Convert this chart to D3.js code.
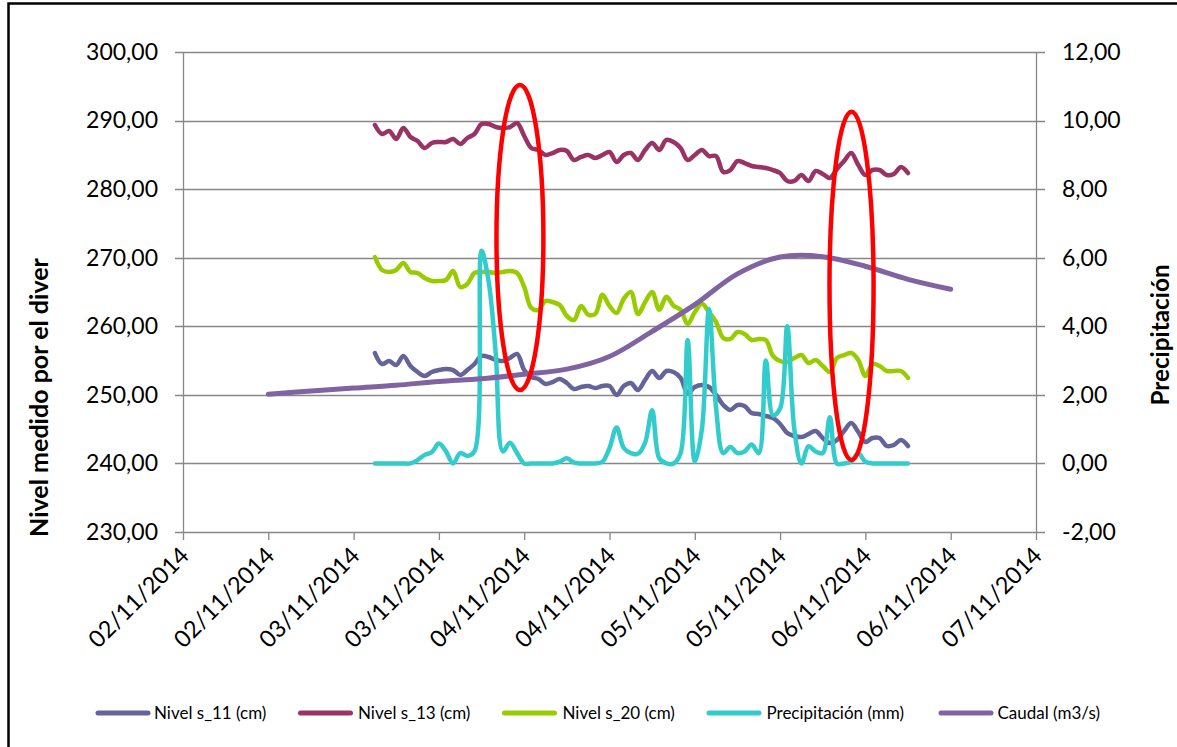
<!DOCTYPE html>
<html><head><meta charset="utf-8">
<script src="https://cdn.jsdelivr.net/npm/d3@7"></script>
<style>
body{margin:0;background:#fff}
svg{display:block}
text{font-family:Lato,"Open Sans",sans-serif;fill:#000}
</style>
</head><body>
<svg id="chart" width="1177" height="747"></svg>
<script>
// ---------- DATA ----------
const xTickHours = [0,12,24,36,48,60,72,84,96,108,120]; // hours after 02/11/2014 00:00
const xTickLabels = ["02/11/2014","02/11/2014","03/11/2014","03/11/2014","04/11/2014","04/11/2014","05/11/2014","05/11/2014","06/11/2014","06/11/2014","07/11/2014"];
const leftTicks = [230,240,250,260,270,280,290,300];
const rightTicks = [-2,0,2,4,6,8,10,12];

const levelStartHour = 27; // hourly series start at 03/11/2014 03:00
const nivelS11 = [256.10,254.50,254.94,254.35,255.67,254.21,253.33,252.75,253.33,253.62,
  253.77,253.62,252.90,253.62,254.50,255.67,255.52,255.08,254.94,255.38,
  255.96,253.62,252.60,252.31,251.58,251.87,252.31,251.73,250.85,251.15,
  251.29,251.00,251.29,251.29,249.98,251.29,251.73,250.71,252.17,253.48,
  252.46,253.48,253.33,252.46,250.27,251.15,251.44,251.15,249.98,248.52,
  247.79,248.52,248.37,247.35,247.21,246.92,246.62,245.75,244.44,244.00,
  243.85,244.29,244.73,243.71,242.98,243.42,244.73,245.89,244.58,243.12,
  243.71,243.71,242.54,242.69,243.42,242.54];
const nivelS13 = [289.35,288.04,288.48,287.31,288.92,287.60,287.02,286.00,286.73,286.87,
  286.87,287.31,286.58,287.46,288.04,289.50,289.50,289.06,288.92,289.06,
  289.65,287.75,286.00,285.71,284.98,285.27,285.71,285.56,284.25,284.69,
  284.98,284.54,284.98,285.42,283.96,284.98,285.27,284.25,285.71,286.73,
  285.71,287.17,286.87,286.00,284.25,284.98,285.71,284.83,284.83,282.50,
  282.79,284.10,283.81,283.37,283.23,283.08,282.79,282.35,281.19,281.19,
  282.06,281.19,282.65,282.21,281.62,282.94,284.10,285.27,283.52,282.06,
  282.79,282.79,282.06,282.21,283.23,282.35];
const nivelS20 = [270.10,268.21,267.92,268.21,269.23,267.92,267.77,267.04,266.60,266.60,
  266.75,268.06,265.73,266.17,267.77,267.92,267.92,267.77,267.92,268.06,
  267.77,265.73,262.67,262.37,263.69,263.54,263.10,261.50,260.91,262.96,
  261.70,261.79,264.60,262.96,261.94,264.00,265.00,261.79,263.50,265.00,
  262.40,264.30,263.00,262.40,260.33,262.08,263.30,262.08,260.62,258.29,
  258.15,259.17,258.87,258.00,258.15,258.00,255.67,254.94,254.79,255.38,
  255.81,254.65,255.08,254.21,253.33,255.38,255.81,256.10,255.08,252.75,
  254.50,254.21,253.48,253.48,253.48,252.46];
const precipitacion = [0,0,0,0,0,0,0.1,0.25,0.33,0.58,
  0.35,0,0.3,0.22,0.35,6.2,5.3,3.2,0.35,0.6,
  0.3,0,0,0,0,0,0.05,0.15,0.02,0,
  0,0,0.05,0.45,1.05,0.45,0.3,0.28,0.6,1.55,
  0.15,0,0,0.3,3.6,0.05,1.0,4.5,1.6,0.3,
  0.48,0.3,0.35,0.55,0.3,3.0,1.4,1.6,4.0,1.0,
  0,0.5,0.35,0.3,1.35,0,0,0.05,0.3,0.05,
  0,0,0,0,0,0];
const caudalHours = [12,18,24,30,36,42,48,54,60,66,72,78,84,90,96,102,108];
const caudalValues = [2.02,2.11,2.20,2.28,2.39,2.47,2.60,2.75,3.12,3.85,4.63,5.53,6.02,6.03,5.75,5.37,5.08];

const seriesNames = ["Nivel s_11 (cm)","Nivel s_13 (cm)","Nivel s_20 (cm)","Precipitación (mm)","Caudal (m3/s)"];
const seriesColors = ["#646499","#993366","#99CC00","#33CCCC","#8064A2"];

// red annotation ellipses: centre hour, half-width (hours), top & bottom on left axis
const ellipseHours = [47.4, 94.05];
const ellipseHalfWidth = [3.3, 3.1];
const ellipseTop = [295.2, 291.3];
const ellipseBottom = [250.7, 240.5];

// ---------- CHART ----------
const svg = d3.select("#chart");
const plot = {left:183, right:1036, top:52, bottom:532};
const x = d3.scaleLinear().domain([0,120]).range([plot.left, plot.right]);
const yL = d3.scaleLinear().domain([230,300]).range([plot.bottom, plot.top]);
const yR = d3.scaleLinear().domain([-2,12]).range([plot.bottom, plot.top]);
const loc = d3.formatLocale({decimal:",", thousands:".", grouping:[3], currency:["","€"], minus:"-"});
const f2 = loc.format(".2f");
const grid = "#878787";

// border
svg.append("rect").attr("x",8.5).attr("y",3.5).attr("width",1190).attr("height",760)
  .attr("fill","none").attr("stroke","#000").attr("stroke-width",2.5);

// gridlines (with outside tick extensions)
svg.append("g").selectAll("line").data(leftTicks).join("line")
  .attr("x1",plot.left-8).attr("x2",plot.right+9)
  .attr("y1",d=>Math.round(yL(d))+0.5).attr("y2",d=>Math.round(yL(d))+0.5)
  .attr("stroke",grid).attr("stroke-width",1.3);
// vertical axis lines
[plot.left, plot.right].forEach(px=>{
  svg.append("line").attr("x1",px+0.5).attr("x2",px+0.5).attr("y1",plot.top).attr("y2",plot.bottom)
    .attr("stroke",grid).attr("stroke-width",1.3);
});

// left axis labels
const axL = d3.axisLeft(yL).tickValues(leftTicks).tickFormat(f2).tickSize(0).tickPadding(25);
const gL = svg.append("g").attr("transform",`translate(${plot.left},0)`).call(axL);
gL.select(".domain").remove();
gL.selectAll("text").attr("font-size",23).attr("font-family","Lato");

// right axis labels
const axR = d3.axisRight(yR).tickValues(rightTicks).tickFormat(f2).tickSize(0).tickPadding(26);
const gR = svg.append("g").attr("transform",`translate(${plot.right},0)`).call(axR);
gR.select(".domain").remove();
gR.selectAll("text").attr("font-size",23).attr("font-family","Lato");

// x axis ticks and rotated labels
const axX = d3.axisBottom(x).tickValues(xTickHours).tickSize(8).tickFormat((d,i)=>xTickLabels[i]);
const gX = svg.append("g").attr("transform",`translate(0,${plot.bottom})`).call(axX);
gX.select(".domain").remove();
gX.selectAll(".tick line").attr("stroke",grid).attr("stroke-width",1.3);
gX.selectAll(".tick text")
  .attr("font-size",23.5).attr("font-family","Lato")
  .attr("text-anchor","end").attr("y",0).attr("dy",0)
  .attr("transform","translate(7,25) rotate(-45)");

// axis titles
const tL = svg.append("text").attr("transform","translate(37.5,397.5) rotate(-90)")
  .attr("text-anchor","middle").attr("dominant-baseline","central")
  .attr("font-size",22).attr("font-weight","bold").text("Nivel medido por el diver");
const tR = svg.append("text").attr("transform","translate(1159,335) rotate(-90)")
  .attr("text-anchor","middle").attr("dominant-baseline","central")
  .attr("font-size",22).attr("font-weight","bold").text("Precipitación");
const measured = tL.node().getComputedTextLength();
if (measured > 0) {
  const fs = 22 * 279 / measured;
  tL.attr("font-size", fs);
  tR.attr("font-size", fs * 0.97);
}

// series
const curve = d3.curveCatmullRom.alpha(0.5);
const hourly = arr => arr.map((v,i)=>({h:levelStartHour+i, v}));
const lineL = d3.line().x(d=>x(d.h)).y(d=>yL(d.v)).curve(curve);
const lineR = d3.line().x(d=>x(d.h)).y(d=>yR(d.v)).curve(curve);
const drawn = [
  {data:hourly(nivelS11), gen:lineL},
  {data:hourly(nivelS13), gen:lineL},
  {data:hourly(nivelS20), gen:lineL},
  {data:hourly(precipitacion), gen:lineR},
  {data:caudalHours.map((h,i)=>({h, v:caudalValues[i]})), gen:lineR}
];
drawn.forEach((s,i)=>{
  svg.append("path").attr("d",s.gen(s.data)).attr("fill","none")
    .attr("stroke",seriesColors[i]).attr("stroke-width",i===4?5:4.5)
    .attr("stroke-linejoin","round").attr("stroke-linecap","round");
});

// annotation ellipses
ellipseHours.forEach((h,i)=>{
  const cy = (yL(ellipseTop[i])+yL(ellipseBottom[i]))/2;
  svg.append("ellipse").attr("cx",x(h)).attr("cy",cy)
    .attr("rx",x(h+ellipseHalfWidth[i])-x(h))
    .attr("ry",(yL(ellipseBottom[i])-yL(ellipseTop[i]))/2)
    .attr("fill","none").attr("stroke","#FF0000").attr("stroke-width",4.5);
});

// legend
const legendLineX = [96,298.5,502.5,707,939];
const legendTextX = [154,358,562.5,766.5,997.5];
const lg = svg.append("g");
seriesNames.forEach((n,i)=>{
  lg.append("line").attr("x1",legendLineX[i]+2).attr("x2",legendLineX[i]+52).attr("y1",713).attr("y2",713)
    .attr("stroke",seriesColors[i]).attr("stroke-width",5).attr("stroke-linecap","round");
  lg.append("text").attr("x",legendTextX[i]).attr("y",713).attr("dy","0.35em")
    .attr("font-size",17).text(n);
});
</script>
</body></html>
